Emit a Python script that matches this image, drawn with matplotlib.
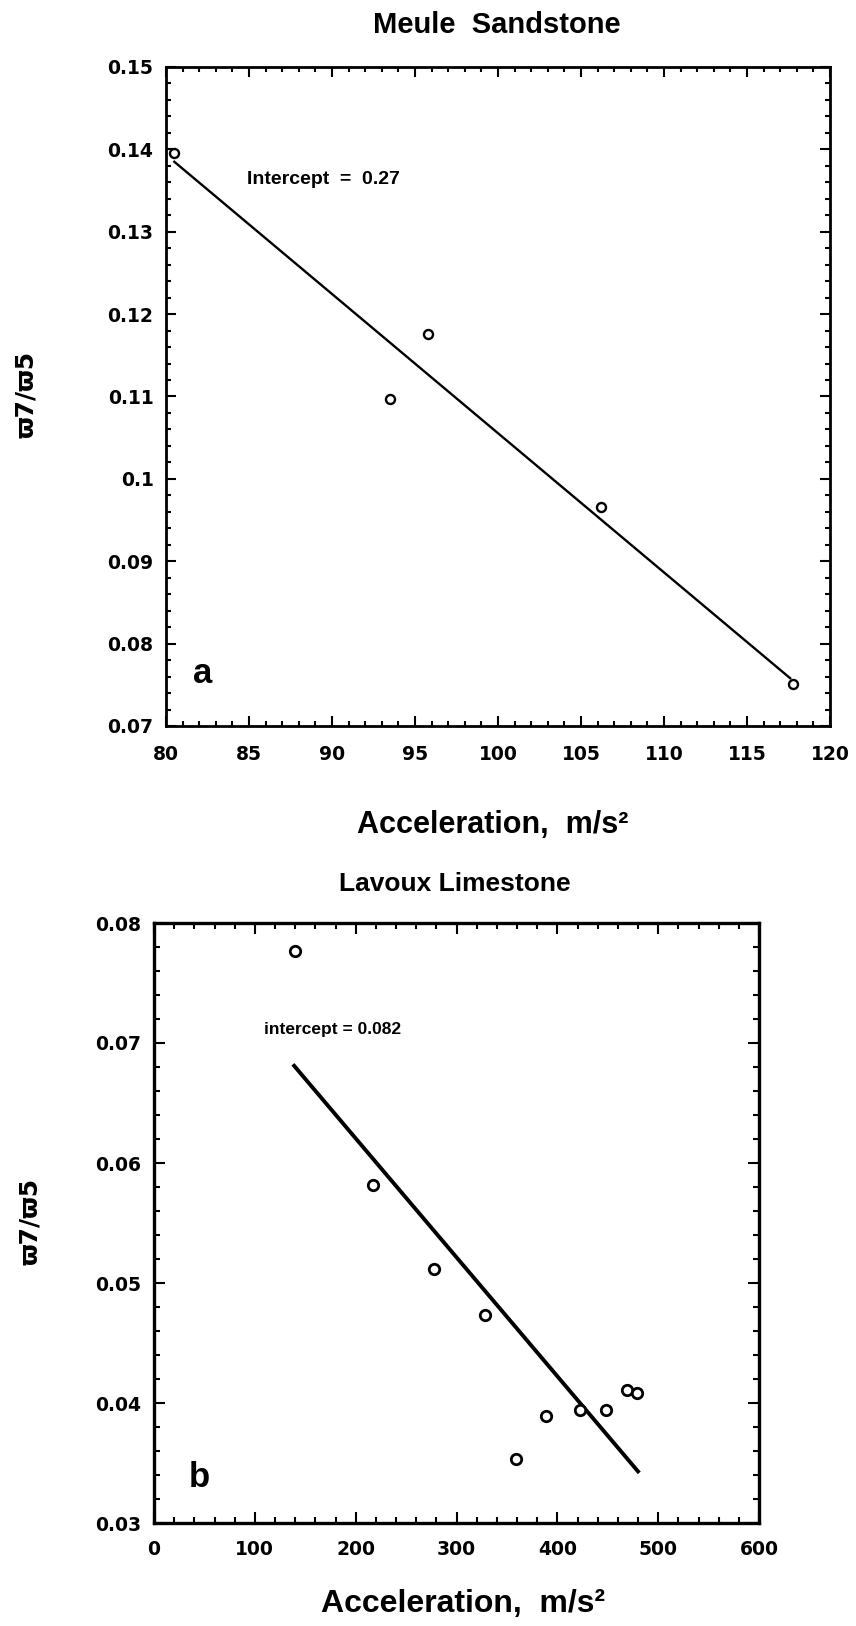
import matplotlib
matplotlib.use('Agg')
import matplotlib.pyplot as plt
from matplotlib.ticker import MultipleLocator, FormatStrFormatter, FuncFormatter

# panel a: Meule Sandstone
accel_a = [80.5, 93.5, 95.8, 106.2, 117.8]
ratio_a = [0.1396, 0.1097, 0.1176, 0.0966, 0.0751]
fit_x_a = [80.5, 117.6]
fit_y_a = [0.1385, 0.0758]

# panel b: Lavoux Limestone
accel_b = [140, 217, 278, 328, 359, 389, 422, 448, 469, 479]
ratio_b = [0.0777, 0.0582, 0.0512, 0.0473, 0.0353, 0.0389, 0.0394, 0.0394, 0.0411, 0.0408]
fit_x_b = [139, 480]
fit_y_b = [0.0681, 0.0343]

LAB = 'Liberation Sans'
TICKF = 'DejaVu Sans'


def style_axes(ax, lw, major_len, minor_len, xpad):
    for sp in ax.spines.values():
        sp.set_linewidth(lw)
    ax.tick_params(which='both', direction='in', top=True, right=True, width=1.5)
    ax.tick_params(which='major', length=major_len)
    ax.tick_params(which='minor', length=minor_len)
    ax.tick_params(axis='y', which='major', pad=9)
    ax.tick_params(axis='x', which='major', pad=xpad)
    for lab in ax.get_xticklabels() + ax.get_yticklabels():
        lab.set_fontfamily(TICKF)
        lab.set_fontweight('bold')
        lab.set_fontsize(13.5)


fig = plt.figure(figsize=(8.56, 16.26), dpi=100)

# ---- top panel
ax1 = fig.add_axes([166 / 856, 1 - 726 / 1626, 664 / 856, 659 / 1626])
ax1.plot(fit_x_a, fit_y_a, color='black', lw=1.7)
ax1.plot(accel_a, ratio_a, 'o', mfc='white', mec='black', ms=6.5, mew=1.7)
ax1.set_xlim(80, 120)
ax1.set_ylim(0.07, 0.15)
ax1.xaxis.set_major_locator(MultipleLocator(5))
ax1.xaxis.set_minor_locator(MultipleLocator(1))
ax1.yaxis.set_major_locator(MultipleLocator(0.01))
ax1.yaxis.set_minor_locator(MultipleLocator(0.002))
ax1.xaxis.set_major_formatter(FormatStrFormatter('%d'))
ax1.yaxis.set_major_formatter(FuncFormatter(lambda v, p: '%g' % round(v, 3)))
style_axes(ax1, 2.0, 7, 3.6, 14)
ax1.text(84.9, 0.1364, 'Intercept  =  0.27', fontfamily=LAB, fontweight='bold',
         fontsize=14, va='center', ha='left')
ax1.text(82.2, 0.0752, 'a', fontfamily=LAB, fontweight='bold', fontsize=25,
         va='baseline', ha='center')

# ---- bottom panel
ax2 = fig.add_axes([154 / 856, 1 - 1523 / 1626, 605 / 856, 600 / 1626])
ax2.plot(fit_x_b, fit_y_b, color='black', lw=2.8)
ax2.plot(accel_b, ratio_b, 'o', mfc='white', mec='black', ms=7.5, mew=2.0)
ax2.set_xlim(0, 600)
ax2.set_ylim(0.03, 0.08)
ax2.xaxis.set_major_locator(MultipleLocator(100))
ax2.xaxis.set_minor_locator(MultipleLocator(20))
ax2.yaxis.set_major_locator(MultipleLocator(0.01))
ax2.yaxis.set_minor_locator(MultipleLocator(0.002))
ax2.xaxis.set_major_formatter(FormatStrFormatter('%d'))
ax2.yaxis.set_major_formatter(FormatStrFormatter('%.2f'))
style_axes(ax2, 2.4, 8, 4, 12)
ax2.text(109, 0.07075, 'intercept = 0.082', fontfamily=LAB, fontweight='bold',
         fontsize=12.5, va='baseline', ha='left')
ax2.text(44.5, 0.0330, 'b', fontfamily=LAB, fontweight='bold', fontsize=25,
         va='baseline', ha='center')

# ---- titles and axis labels
fig.text(497 / 856, 1 - 33 / 1626, 'Meule  Sandstone', fontfamily=LAB,
         fontweight='bold', fontsize=21, ha='center', va='baseline')
fig.text(493 / 856, 1 - 833 / 1626, 'Acceleration,  m/s²', fontfamily=LAB,
         fontweight='bold', fontsize=22, ha='center', va='baseline')
fig.text(455 / 856, 1 - 891 / 1626, 'Lavoux Limestone', fontfamily=LAB,
         fontweight='bold', fontsize=19, ha='center', va='baseline')
fig.text(463 / 856, 1 - 1612 / 1626, 'Acceleration,  m/s²', fontfamily=LAB,
         fontweight='bold', fontsize=23, ha='center', va='baseline')
fig.text(26 / 856, 1 - 394 / 1626, 'ϖ7/ϖ5', fontfamily=TICKF,
         fontweight='bold', fontsize=18, ha='center', va='center', rotation=90)
fig.text(30 / 856, 1 - 1221 / 1626, 'ϖ7/ϖ5', fontfamily=TICKF,
         fontweight='bold', fontsize=18, ha='center', va='center', rotation=90)

fig.savefig('out.png', dpi=100, facecolor='white')
